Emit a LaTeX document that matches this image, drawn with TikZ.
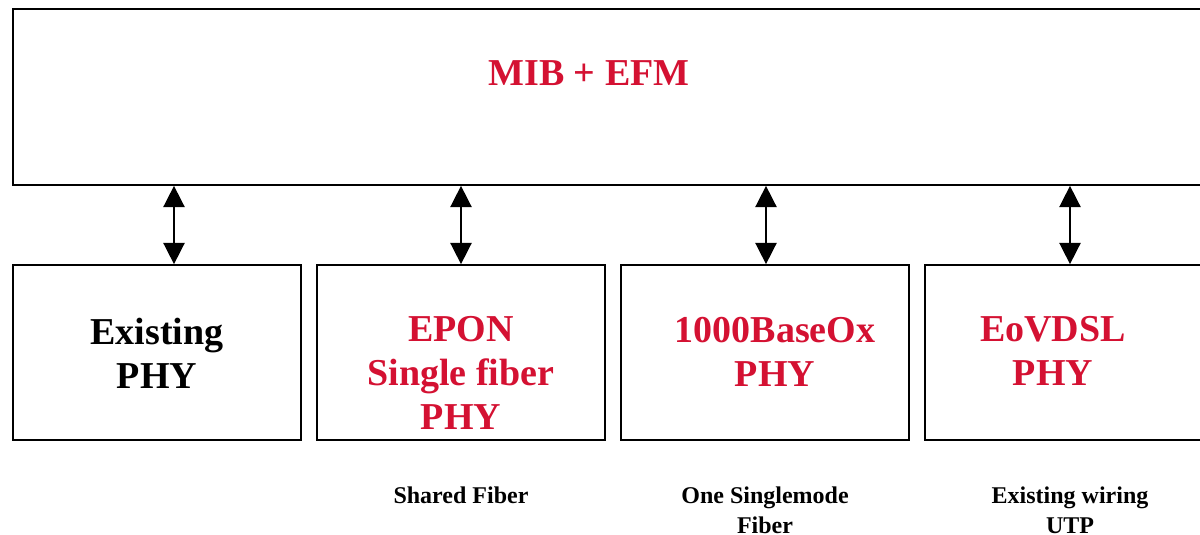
\documentclass[tikz,border=0pt]{standalone}
\usepackage{fontspec}
\setmainfont{Liberation Serif}
\usetikzlibrary{arrows.meta}
\definecolor{efmred}{RGB}{212,17,50}
\begin{document}
\begin{tikzpicture}[x=0.75pt,y=-0.75pt,
  blk/.style={draw,line width=1.3pt,inner sep=0pt,minimum width=216pt,minimum height=131.25pt},
  big/.style={font=\bfseries\fontsize{28.5}{33}\selectfont,align=center,inner sep=0pt,anchor=north},
  small/.style={font=\bfseries\fontsize{18}{22}\selectfont,align=center,inner sep=0pt,anchor=north},
  link/.style={line width=1.2pt,{Triangle[width=16pt,length=16pt]}-{Triangle[width=16pt,length=16pt]}}]
\useasboundingbox (0,0) rectangle (1200,535);
% top block
\node[blk,minimum width=900pt,minimum height=132pt] (mib) at (613,97) {};
\node[big,text=efmred] (mibtxt) at (589,60.5) {MIB + EFM};
% PHY blocks
\node[blk] (exist) at (157,352.5) {};
\node[blk] (epon) at (461,352.5) {};
\node[blk] (base) at (765,352.5) {};
\node[blk] (vdsl) at (1069,352.5) {};
\node[big] (existtxt) at (157,317.5) {Existing\\PHY};
\node[big,text=efmred] (epontxt) at (461,316) {EPON\\Single fiber\\PHY};
\node[big,text=efmred] (basetxt) at (775,316.5) {1000BaseOx\\PHY};
\node[big,text=efmred] (vdsltxt) at (1053,316.5) {EoVDSL\\PHY};
% media
\node[small] (shared) at (461,487) {Shared Fiber};
\node[small] (single) at (765,487) {One Singlemode\\Fiber};
\node[small] (utp) at (1070,487) {Existing wiring\\UTP};
\foreach \b/\dx in {exist/17,epon/0,base/1,vdsl/1}
  \draw[link] ([xshift=\dx*0.75pt]\b.north) -- ([xshift=\dx*0.75pt]\b.north |- mib.south);
\end{tikzpicture}
\end{document}
